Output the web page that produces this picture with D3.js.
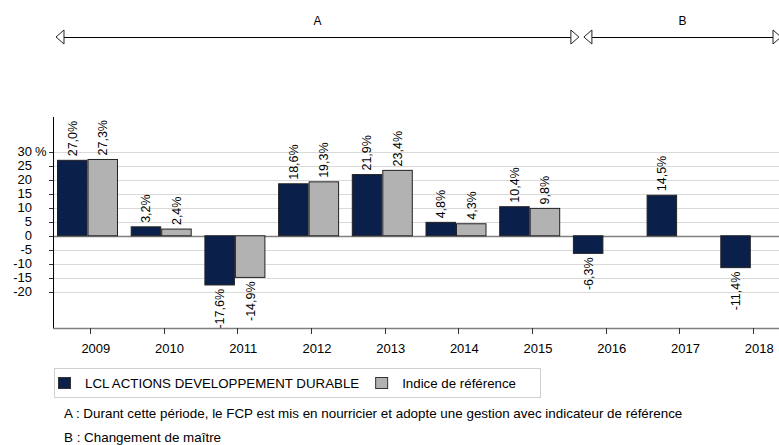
<!DOCTYPE html>
<html>
<head>
<meta charset="utf-8">
<script src="https://cdn.jsdelivr.net/npm/d3@7"></script>
<style>
  body { margin: 0; background: #fff; }
  svg { font-family: "Liberation Sans", Arial, sans-serif; }
</style>
</head>
<body>
<div id="chart"></div>
<script>
// data
var years = ['2009','2010','2011','2012','2013','2014','2015','2016','2017','2018'];
var series = ['LCL ACTIONS DEVELOPPEMENT DURABLE', 'Indice de référence'];
var fundValues = [27.0, 3.2, -17.6, 18.6, 21.9, 4.8, 10.4, -6.3, 14.5, -11.4];
var indexValues = [27.3, 2.4, -14.9, 19.3, 23.4, 4.3, 9.8, null, null, null];
var yTicks = [-20, -15, -10, -5, 0, 5, 10, 15, 20, 25, 30];
var periods = [
  {label: 'A', first: '2009', last: '2015'},
  {label: 'B', first: '2016', last: '2018'}
];
var notes = [
  'A : Durant cette période, le FCP est mis en nourricier et adopte une gestion avec indicateur de référence',
  'B : Changement de maître'
];

var W = 779, H = 445;
var colors = ['#0b1f4b', '#b2b2b2'];

var svg = d3.select('#chart').append('svg')
    .attr('width', W)
    .attr('height', H);

var x = d3.scaleBand().domain(years).range([53, 790]);
var x1 = d3.scaleBand().domain(series).range([4, 65]);
var y = d3.scaleLinear().domain([-33, 42.5]).range([328, 117]);

// grid
svg.selectAll('line.grid')
    .data(yTicks)
    .enter()
    .append('line')
    .attr('class', 'grid')
    .attr('x1', 53)
    .attr('x2', W)
    .attr('y1', function(d){ return Math.round(y(d)) + 0.5; })
    .attr('y2', function(d){ return Math.round(y(d)) + 0.5; })
    .attr('stroke', function(d){ return d === 0 ? '#808080' : '#d9d9d9'; })
    .attr('stroke-width', function(d){ return d === 0 ? 1.5 : 1; });

// y tick marks + labels
svg.selectAll('line.ytick')
    .data(yTicks)
    .enter()
    .append('line')
    .attr('x1', 49)
    .attr('x2', 53)
    .attr('y1', function(d){ return Math.round(y(d)) + 0.5; })
    .attr('y2', function(d){ return Math.round(y(d)) + 0.5; })
    .attr('stroke', '#333');

svg.selectAll('text.ylab')
    .data(yTicks)
    .enter()
    .append('text')
    .attr('class', 'ylab')
    .attr('x', 32)
    .attr('y', function(d){ return y(d); })
    .attr('dy', '0.35em')
    .attr('text-anchor', 'end')
    .attr('font-size', '13px')
    .attr('fill', '#000')
    .text(function(d){ return d; });

svg.append('text')
    .attr('x', 35)
    .attr('y', y(30))
    .attr('dy', '0.35em')
    .attr('font-size', '13px')
    .text('%');

// bars
var rows = [];
years.forEach(function(yr, i){
  rows.push({year: yr, s: series[0], v: fundValues[i], c: colors[0]});
  if (indexValues[i] !== null) rows.push({year: yr, s: series[1], v: indexValues[i], c: colors[1]});
});

svg.selectAll('rect.bar')
    .data(rows)
    .enter()
    .append('rect')
    .attr('class', 'bar')
    .attr('x', function(d){ return x(d.year) + x1(d.s) + 0.5; })
    .attr('y', function(d){ return y(Math.max(0, d.v)); })
    .attr('width', x1.bandwidth() - 1)
    .attr('height', function(d){ return Math.abs(y(d.v) - y(0)); })
    .attr('fill', function(d){ return d.c; })
    .attr('stroke', '#222')
    .attr('stroke-width', 1);

var fr = d3.formatLocale({decimal: ',', thousands: ' ', grouping: [3], currency: ['', '%'], minus: '-'});
var fmt = fr.format('.1f');
svg.selectAll('text.val')
    .data(rows)
    .enter()
    .append('text')
    .attr('class', 'val')
    .attr('transform', function(d){
      var cx = x(d.year) + x1(d.s) + x1.bandwidth() / 2;
      var cy = d.v >= 0 ? y(d.v) - 4 : y(d.v) + 4;
      return 'translate(' + cx + ',' + cy + ') rotate(-90)';
    })
    .attr('dy', '0.35em')
    .attr('text-anchor', function(d){ return d.v >= 0 ? 'start' : 'end'; })
    .attr('font-size', '12.5px')
    .text(function(d){ return fmt(d.v) + '%'; });

// axes lines
svg.append('line')
    .attr('x1', 53.5).attr('x2', 53.5)
    .attr('y1', 117).attr('y2', 328)
    .attr('stroke', '#000');

svg.append('line')
    .attr('x1', 53).attr('x2', W)
    .attr('y1', 328.5).attr('y2', 328.5)
    .attr('stroke', '#808080')
    .attr('stroke-width', 1.5);

svg.selectAll('line.xtick')
    .data(years)
    .enter()
    .append('line')
    .attr('x1', function(d){ return Math.round(x(d) + x.bandwidth() / 2) + 0.5; })
    .attr('x2', function(d){ return Math.round(x(d) + x.bandwidth() / 2) + 0.5; })
    .attr('y1', 328)
    .attr('y2', 334)
    .attr('stroke', '#333');

svg.selectAll('text.xlab')
    .data(years)
    .enter()
    .append('text')
    .attr('x', function(d){ return x(d) + x.bandwidth() / 2 + 6; })
    .attr('y', 353)
    .attr('text-anchor', 'middle')
    .attr('font-size', '13px')
    .text(function(d){ return d; });

// period arrows
var insets = {A: [3, 10], B: [15, -9]};
function head(px, dir) {
  // open triangle, tip at px, pointing in dir (-1 left, 1 right)
  var b = px - dir * 8;
  return 'M' + px + ',37 L' + b + ',30 L' + b + ',44 Z';
}
periods.forEach(function(p){
  var x0 = x(p.first) + insets[p.label][0];
  var x2 = x(p.last) + x.bandwidth() + insets[p.label][1];
  svg.append('line')
      .attr('x1', x0 + 8).attr('x2', x2 - 8)
      .attr('y1', 37.5).attr('y2', 37.5)
      .attr('stroke', '#000');
  svg.append('path').attr('d', head(x0, -1)).attr('fill', '#fff').attr('stroke', '#222');
  svg.append('path').attr('d', head(x2, 1)).attr('fill', '#fff').attr('stroke', '#222');
  svg.append('text')
      .attr('x', (x0 + x2) / 2)
      .attr('y', 25)
      .attr('text-anchor', 'middle')
      .attr('font-size', '12px')
      .text(p.label);
});

// legend
var lg = svg.append('g');
lg.append('rect')
    .attr('x', 54.5).attr('y', 368.5)
    .attr('width', 486).attr('height', 29)
    .attr('fill', '#fff')
    .attr('stroke', '#d0d0d0');
var lx = 58;
series.forEach(function(s, i){
  lg.append('rect')
      .attr('x', lx + 0.5).attr('y', 377.5)
      .attr('width', 12).attr('height', 11)
      .attr('fill', colors[i])
      .attr('stroke', '#333');
  var t = lg.append('text')
      .attr('x', lx + 27)
      .attr('y', 388)
      .attr('font-size', '13.3px')
      .text(s);
  lx = lx + 27 + t.node().getComputedTextLength() + 16;
});

svg.selectAll('text.note')
    .data(notes)
    .enter()
    .append('text')
    .attr('x', 64)
    .attr('y', function(d, i){ return 418 + i * 24; })
    .attr('font-size', '13.4px')
    .text(function(d){ return d; });
</script>
</body>
</html>
